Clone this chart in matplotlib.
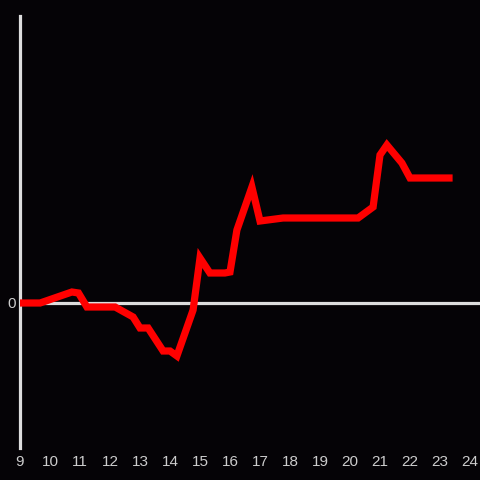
import matplotlib
matplotlib.use("Agg")
import matplotlib.pyplot as plt

# hour of day vs. value (relative units)
hours = [9.0, 9.67, 10.73, 10.95, 11.23, 12.17, 12.77, 13.0, 13.27, 13.77,
         14.0, 14.23, 14.77, 15.0, 15.33, 15.83, 16.0, 16.23, 16.73, 17.0,
         17.77, 20.27, 20.77, 21.0, 21.23, 21.73, 22.0, 23.3]
values = [0, 0, 11, 10, -4, -4, -14, -25, -25, -48,
          -48, -53, -7, 45, 30, 30, 31, 73, 116, 82,
          85, 85, 96, 148, 158, 140, 125, 125]
xticks = list(range(9, 25))

bg = "#050306"
fig = plt.figure(figsize=(4.8, 4.8), dpi=100, facecolor=bg)
ax = fig.add_axes([20/480, 32/480, 460/480, 432/480], facecolor=bg)

ax.axhline(0, color="#dddddd", lw=2.3, zorder=1)
ax.plot(hours, values, color="#ff0000", lw=5.2, zorder=3, solid_joinstyle="miter")

ax.set_xlim(9, 9 + 460/30)
ax.set_ylim(-145, 287)
ax.set_xticks(xticks)
ax.set_yticks([0])

for s in ["top", "right", "bottom"]:
    ax.spines[s].set_visible(False)
ax.spines["left"].set_color("#dddddd")
ax.spines["left"].set_linewidth(2.3)
ax.tick_params(length=0, colors="#cccccc", labelsize=11, pad=5)
for lab in ax.get_xticklabels() + ax.get_yticklabels():
    lab.set_fontfamily("Liberation Sans")
ax.tick_params(axis="y", pad=3)

fig.savefig("out.png", dpi=100, facecolor=bg)
